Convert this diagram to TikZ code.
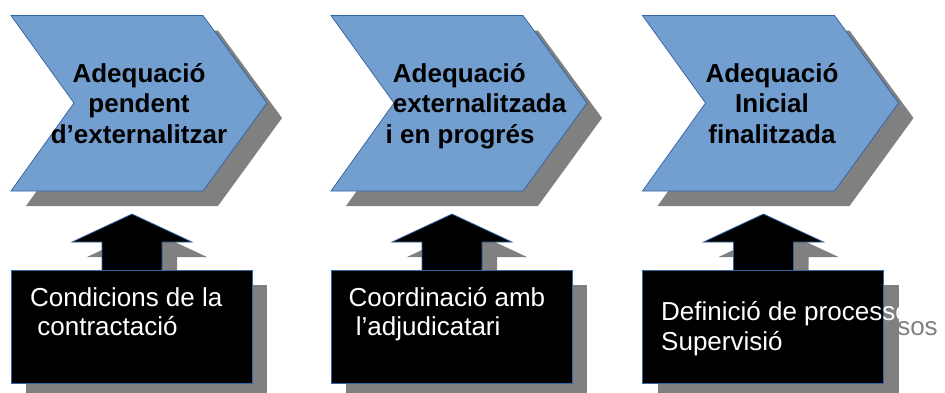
\documentclass[tikz,border=0pt]{standalone}
\usepackage{fontspec}
\setmainfont{Liberation Sans}
\definecolor{chevblue}{HTML}{729FCF}
\definecolor{lineblue}{HTML}{3465A4}
\definecolor{shadowgrey}{HTML}{808080}
\begin{document}
\begin{tikzpicture}[x=1pt,y=-1pt,
  chevron/.style={fill=chevblue, draw=lineblue, line width=0.75pt},
  shade/.style={fill=shadowgrey},
  inbox/.style={fill=black, draw=lineblue, line width=0.75pt},
  stagetext/.style={font=\fontsize{26}{30.5}\selectfont\bfseries, inner sep=0pt},
  inputtext/.style={font=\fontsize{26}{29.5}\selectfont, text=white, inner sep=0pt, align=left, anchor=base west}]
\clip (0,0) rectangle (945,392);
% shadows
\foreach \dx in {0,320,631.5} {
  \begin{scope}[shift={(\dx+15,15)}]
    \fill[shade] (11,15.5) -- (203,15.5) -- (267,103) -- (203,191) -- (11,191) -- (74,103) -- cycle;
    \fill[shade] (132,214) -- (192,242) -- (162,242) -- (162,275) -- (102,275) -- (102,242) -- (72,242) -- cycle;
    \fill[shade] (11,270) rectangle (252,383);
  \end{scope}
}
\node[inputtext, text=shadowgrey] (input3shadow) at (676,335) {Definició de processos};
% stages and inputs
\foreach \dx in {0,320,631.5} {
  \begin{scope}[shift={(\dx,0)}]
    \filldraw[chevron] (11,15.5) -- (203,15.5) -- (267,103) -- (203,191) -- (11,191) -- (74,103) -- cycle;
    \filldraw[inbox] (132,214) -- (192,242) -- (162,242) -- (162,275) -- (102,275) -- (102,242) -- (72,242) -- cycle;
    \filldraw[inbox] (11,270) rectangle (252,383);
  \end{scope}
}
% base anchor = baseline of the last line
\node[stagetext, align=center, anchor=base] (stage1) at (139,143) {Adequació\\pendent\\d’externalitzar};
\node[stagetext, align=left, anchor=base west] (stage2) at (385.5,143) {\hspace*{0.278em}Adequació\\\hspace*{0.278em}externalitzada\\i en progrés};
\node[stagetext, align=center, anchor=base] (stage3) at (772,143) {Adequació\\Inicial\\finalitzada};
\node[inputtext] (input1) at (30,335.5) {Condicions de la\\\hspace*{0.278em}contractació};
\node[inputtext] (input2) at (348.5,335.5) {Coordinació amb\\\hspace*{0.278em}l’adjudicatari};
\node[inputtext] (input3) at (661,350) {Definició de processos\\Supervisió};
\end{tikzpicture}
\end{document}
